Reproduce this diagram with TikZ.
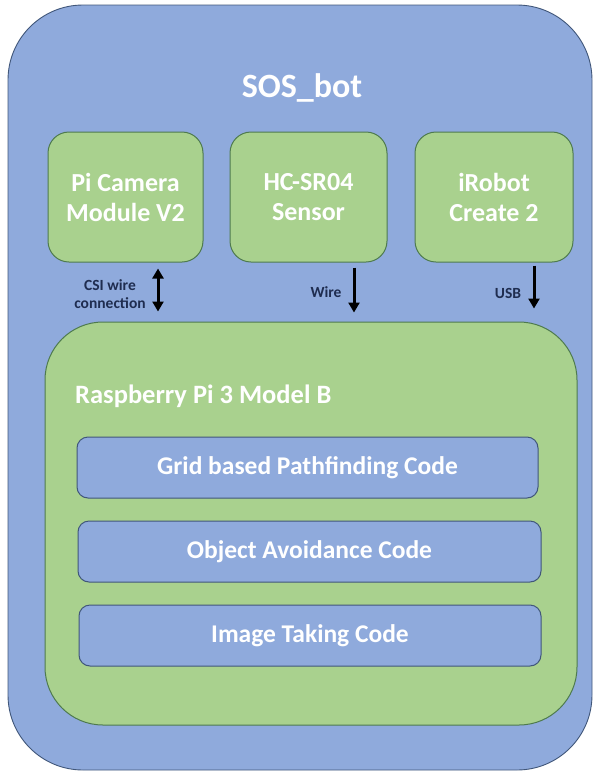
\documentclass[tikz,border=0pt]{standalone}
\usepackage{fontspec}
\setmainfont{Carlito}
\usetikzlibrary{arrows.meta,calc}
\definecolor{bluefill}{HTML}{8FAADC}
\definecolor{blueedge}{HTML}{41577A}
\definecolor{greenfill}{HTML}{A9D18E}
\definecolor{greenedge}{HTML}{4E7A4E}
\definecolor{navy}{HTML}{1F2D50}
\tikzset{
  outerbox/.style={draw=blueedge, fill=bluefill, line width=0.9pt, rounded corners=75pt, inner sep=0pt},
  greenbox/.style={draw=greenedge, fill=greenfill, line width=1pt, rounded corners=21pt, inner sep=0pt,
     text=white, font=\fontsize{26}{30}\selectfont\bfseries, align=center},
  pibox/.style={draw=greenedge, fill=greenfill, line width=1pt, rounded corners=58pt, inner sep=0pt},
  codebox/.style={draw=blueedge, fill=bluefill, line width=1pt, rounded corners=11pt, inner sep=0pt,
     text=white, font=\fontsize{25.5}{30}\selectfont\bfseries},
  lbl/.style={text=navy, font=\fontsize{15.5}{18}\selectfont\bfseries, align=center, inner sep=0pt},
  arr/.style={line width=3pt, black, -{Triangle[length=10pt,width=11pt]}},
  darr/.style={line width=3pt, black, {Triangle[length=10pt,width=11pt]}-{Triangle[length=10pt,width=11pt]}}
}
\begin{document}
\begin{tikzpicture}[x=1pt,y=-1pt]
\useasboundingbox (0,0) rectangle (597,772);
\node[outerbox, minimum width=584pt, minimum height=765pt] (outer) at (300,387.5) {};
\node[text=white, font=\fontsize{34}{40}\selectfont\bfseries] (title) at (302,88) {SOS\_bot};
\node[greenbox, minimum width=155pt, minimum height=130pt] (cam) at (125.5,197) {Pi Camera\\Module V2};
\node[greenbox, minimum width=157pt, minimum height=130pt] (hc) at (308.5,197) {HC-SR04\\Sensor};
\node[greenbox, minimum width=158pt, minimum height=130pt] (irb) at (494,197) {iRobot\\Create 2};
\node[pibox, minimum width=532pt, minimum height=403pt] (pi) at (311,523.5) {};
\node[text=white, font=\fontsize{26.5}{30}\selectfont\bfseries, anchor=west, inner sep=0pt] (pilbl) at (75,396) {Raspberry Pi 3 Model B};
\node[codebox, minimum width=461pt, minimum height=61pt] (grid) at (307.5,467.5) {Grid based Pathfinding Code};
\node[codebox, minimum width=463pt, minimum height=61pt] (obj) at (309.5,551.5) {Object Avoidance Code};
\node[codebox, minimum width=462pt, minimum height=61pt] (img) at (310,635.5) {Image Taking Code};
\coordinate (a1s) at ($(cam.south)+(32.5,6)$);
\coordinate (a1e) at ($(pi.north)+(-153,-10)$);
\coordinate (a2s) at ($(hc.south)+(45.5,5)$);
\coordinate (a2e) at ($(pi.north)+(43,-9)$);
\coordinate (a3s) at ($(irb.south)+(40,3)$);
\coordinate (a3e) at ($(pi.north)+(223,-13)$);
\draw[darr] (a1s) -- (a1e);
\draw[arr] (a2s) -- (a2e);
\draw[arr] (a3s) -- (a3e);
\node[lbl] (l1) at (110,294) {CSI wire\\connection};
\node[lbl] (l2) at (326,292) {Wire};
\node[lbl] (l3) at (508,293) {USB};
\end{tikzpicture}
\end{document}
